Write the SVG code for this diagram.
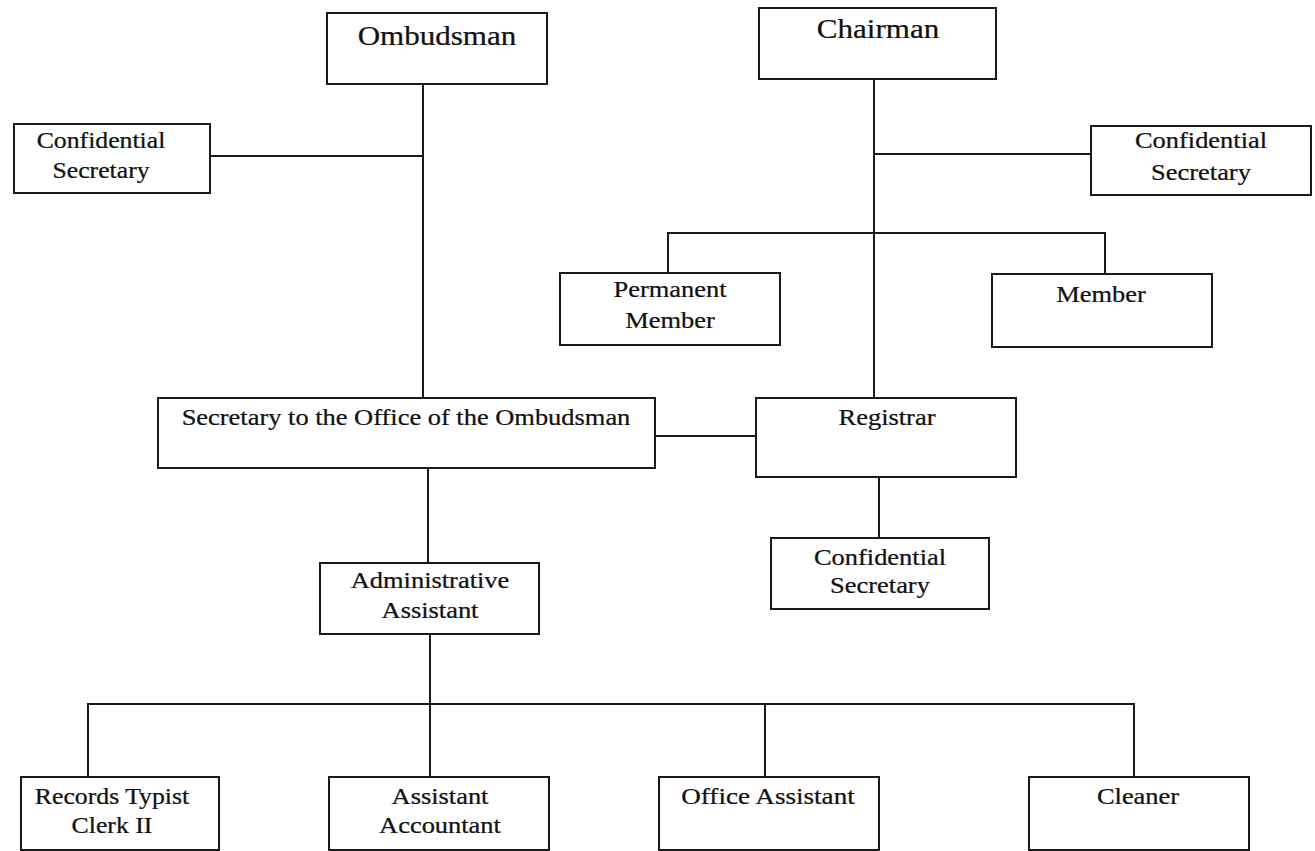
<svg xmlns="http://www.w3.org/2000/svg" width="1315" height="851" viewBox="0 0 1315 851">
<style>
.box{fill:#fff;stroke:#1a1a1a;stroke-width:2}
.ln{stroke:#1a1a1a;stroke-width:2;fill:none}
.t{font-family:"Liberation Serif","Times New Roman",serif;font-size:23px;fill:#111;stroke:#111;stroke-width:0.25;text-anchor:middle}
.tb{font-family:"Liberation Serif","Times New Roman",serif;font-size:27px;fill:#111;stroke:#111;stroke-width:0.25;text-anchor:middle}
</style>
<rect width="1315" height="851" fill="#fff"/>
<g id="connectors">
<path class="ln" d="M423 84V398M210 156H423"/>
<path class="ln" d="M874 79V398M874 154H1091"/>
<path class="ln" d="M668 273V233H1105V274"/>
<path class="ln" d="M655 436H756"/>
<path class="ln" d="M879 477V538"/>
<path class="ln" d="M428 468V563"/>
<path class="ln" d="M430 634V777"/>
<path class="ln" d="M88 777V704H1134V777M765 704V777"/>
</g>
<g id="ombudsman"><rect class="box" x="327" y="13" width="220" height="71"/><text class="tb" transform="translate(437,45) scale(1.15,1)">Ombudsman</text></g>
<g id="conf-sec-left"><rect class="box" x="14" y="124" width="196" height="69"/><text class="t" transform="translate(101,148) scale(1.12,1)">Confidential</text><text class="t" transform="translate(101,178) scale(1.12,1)">Secretary</text></g>
<g id="chairman"><rect class="box" x="759" y="8" width="237" height="71"/><text class="tb" transform="translate(878,38) scale(1.15,1)">Chairman</text></g>
<g id="conf-sec-right"><rect class="box" x="1091" y="126" width="220" height="69"/><text class="t" transform="translate(1201,148) scale(1.15,1)">Confidential</text><text class="t" transform="translate(1201,180) scale(1.15,1)">Secretary</text></g>
<g id="permanent-member"><rect class="box" x="560" y="273" width="220" height="72"/><text class="t" transform="translate(670,297) scale(1.15,1)">Permanent</text><text class="t" transform="translate(670,328) scale(1.15,1)">Member</text></g>
<g id="member"><rect class="box" x="992" y="274" width="220" height="73"/><text class="t" transform="translate(1101,302) scale(1.15,1)">Member</text></g>
<g id="secretary"><rect class="box" x="158" y="398" width="497" height="70"/><text class="t" transform="translate(406,425) scale(1.15,1)">Secretary to the Office of the Ombudsman</text></g>
<g id="registrar"><rect class="box" x="756" y="398" width="260" height="79"/><text class="t" transform="translate(887,425) scale(1.15,1)">Registrar</text></g>
<g id="conf-sec-lower"><rect class="box" x="771" y="538" width="218" height="71"/><text class="t" transform="translate(880,565) scale(1.15,1)">Confidential</text><text class="t" transform="translate(880,593) scale(1.15,1)">Secretary</text></g>
<g id="admin-assistant"><rect class="box" x="320" y="563" width="219" height="71"/><text class="t" transform="translate(430,588) scale(1.15,1)">Administrative</text><text class="t" transform="translate(430,618) scale(1.15,1)">Assistant</text></g>
<g id="records-typist"><rect class="box" x="21" y="777" width="198" height="73"/><text class="t" transform="translate(112,804) scale(1.12,1)">Records Typist</text><text class="t" transform="translate(112,833) scale(1.12,1)">Clerk II</text></g>
<g id="assistant-accountant"><rect class="box" x="329" y="777" width="220" height="73"/><text class="t" transform="translate(440,804) scale(1.15,1)">Assistant</text><text class="t" transform="translate(440,833) scale(1.15,1)">Accountant</text></g>
<g id="office-assistant"><rect class="box" x="659" y="777" width="220" height="73"/><text class="t" transform="translate(768,804) scale(1.18,1)">Office Assistant</text></g>
<g id="cleaner"><rect class="box" x="1029" y="777" width="220" height="73"/><text class="t" transform="translate(1138,804) scale(1.15,1)">Cleaner</text></g>
</svg>
